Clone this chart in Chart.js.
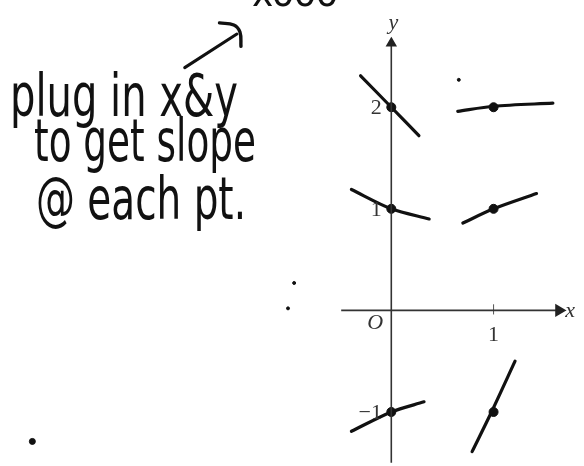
<!DOCTYPE html>
<html>
<head>
<meta charset="utf-8">
<script src="https://cdn.jsdelivr.net/npm/chart.js@4"></script>
<style>
  body { margin: 0; background: #fff; }
  .wrap { position: relative; width: 584px; height: 466px; }
</style>
</head>
<body>
<div class="wrap"><canvas id="myChart"></canvas></div>
<script>
// points where the slope is drawn
const pointsX = [0, 1, 0, 1, 0, 1];
const pointsY = [2, 2, 1, 1, -1, -1];

// short slope segments: [start, through, end] for each point
const segX = [
  [-0.30, 0, 0.27],
  [0.65, 1, 1.58],
  [-0.39, 0, 0.37],
  [0.70, 1, 1.42],
  [-0.39, 0, 0.32],
  [0.79, 0.98, 1.21]
];
const segY = [
  [2.31, 2.0, 1.72],
  [1.96, 2.01, 2.04],
  [1.19, 1.0, 0.90],
  [0.86, 1.0, 1.15],
  [-1.19, -1.0, -0.90],
  [-1.39, -1.0, -0.50]
];

// axes extent
const xAxisRange = [-0.49, 1.64];
const yAxisRange = [-1.5, 2.63];

// tick labels
const yTickLabels = ["2", "1", "\u22121"];
const yTickValues = [2, 1, -1];
const xTickLabels = ["1"];
const xTickValues = [1];

// handwritten note and arrow
const noteLines = ["plug in x&y", "to get slope", "@ each pt."];
const arrowX = [-2.02, -1.51];
const arrowY = [2.39, 2.72];
const arrowHeadX = [-1.68, -1.54, -1.48, -1.47];
const arrowHeadY = [2.83, 2.81, 2.74, 2.60];

// stray specks on the scan
const speckX = [-3.51, -0.95, -1.01, 0.66];
const speckY = [-1.29, 0.27, 0.02, 2.27];

const toPts = (xs, ys) => xs.map((x, i) => ({ x: x, y: ys[i] }));

const datasets = [];
// axes
datasets.push({
  data: [{ x: xAxisRange[0], y: 0 }, { x: xAxisRange[1], y: 0 }],
  showLine: true, borderColor: '#333', borderWidth: 1.6,
  pointRadius: [0, 6], pointStyle: 'triangle', pointRotation: 90,
  backgroundColor: '#222', pointBorderColor: '#222'
});
datasets.push({
  data: [{ x: 0, y: yAxisRange[0] }, { x: 0, y: yAxisRange[1] }],
  showLine: true, borderColor: '#333', borderWidth: 1.6,
  pointRadius: [0, 5], pointStyle: 'triangle', pointRotation: 0,
  backgroundColor: '#222', pointBorderColor: '#222'
});
// tick on x axis at 1
xTickValues.forEach(v => {
  datasets.push({
    data: [{ x: v, y: -0.04 }, { x: v, y: 0.06 }],
    showLine: true, borderColor: '#555', borderWidth: 1, pointRadius: 0
  });
});
// slope segments
segX.forEach((xs, i) => {
  datasets.push({
    data: toPts(xs, segY[i]),
    showLine: true, borderColor: '#111', borderWidth: 3.2,
    borderCapStyle: 'round', borderJoinStyle: 'round', tension: 0.3, pointRadius: 0
  });
});
// dots
datasets.push({
  data: toPts(pointsX, pointsY),
  pointRadius: 4.5, backgroundColor: '#111', borderColor: '#111'
});
// arrow
datasets.push({
  data: toPts(arrowX, arrowY),
  showLine: true, borderColor: '#111', borderWidth: 3, borderCapStyle: 'round', pointRadius: 0
});
datasets.push({
  data: toPts(arrowHeadX, arrowHeadY),
  showLine: true, borderColor: '#111', borderWidth: 3.4, borderCapStyle: 'round',
  tension: 0.4, pointRadius: 0
});
// specks
datasets.push({
  data: toPts(speckX, speckY),
  pointRadius: [3, 1.5, 1.5, 1.5], backgroundColor: '#111', borderColor: '#111'
});
datasets.forEach(d => { d.clip = false; });

const labelsPlugin = {
  id: 'labels',
  afterDatasetsDraw(chart) {
    const ctx = chart.ctx;
    const sx = chart.scales.x, sy = chart.scales.y;
    ctx.save();
    ctx.fillStyle = '#333';
    ctx.textAlign = 'center';
    ctx.textBaseline = 'middle';
    ctx.font = '22px "Liberation Serif", "DejaVu Serif", serif';
    yTickLabels.forEach((t, i) => {
      ctx.fillText(t, sx.getPixelForValue(0) - 15 - (t.length - 1) * 6, sy.getPixelForValue(yTickValues[i]) + 1);
    });
    xTickLabels.forEach((t, i) => {
      ctx.fillText(t, sx.getPixelForValue(xTickValues[i]), sy.getPixelForValue(0) + 25);
    });
    ctx.font = 'italic 22px "Liberation Serif", "DejaVu Serif", serif';
    ctx.fillText('O', sx.getPixelForValue(0) - 16, sy.getPixelForValue(0) + 13);
    ctx.fillText('x', sx.getPixelForValue(xAxisRange[1]) + 11, sy.getPixelForValue(0) + 1);
    ctx.fillText('y', sx.getPixelForValue(0) + 2, sy.getPixelForValue(yAxisRange[1]) - 20);

    // handwritten note
    ctx.fillStyle = '#111';
    ctx.textAlign = 'left';
    ctx.textBaseline = 'alphabetic';
    ctx.font = '58px "Liberation Sans Narrow", "DejaVu Sans Condensed", sans-serif';
    ctx.fillText(noteLines[0], 10, 116, 228);
    ctx.fillText(noteLines[1], 34, 161, 222);
    ctx.fillText(noteLines[2], 36, 219, 210);
    // cut-off writing at the top edge
    ctx.font = '40px "Liberation Sans Narrow", "DejaVu Sans Condensed", sans-serif';
    ctx.fillText('xooo', 252, 6, 95);
    ctx.restore();
  }
};

const ctx = document.getElementById('myChart').getContext('2d');
const myChart = new Chart(ctx, {
  type: 'scatter',
  data: { datasets: datasets },
  options: {
    responsive: true,
    maintainAspectRatio: false,
    animation: false,
    layout: { padding: 0 },
    plugins: { legend: { display: false }, tooltip: { enabled: false } },
    scales: {
      x: { type: 'linear', min: -3.752, max: 1.810, display: false },
      y: { type: 'linear', min: -1.457, max: 2.981, display: false }
    }
  },
  plugins: [labelsPlugin]
});
</script>
</body>
</html>
